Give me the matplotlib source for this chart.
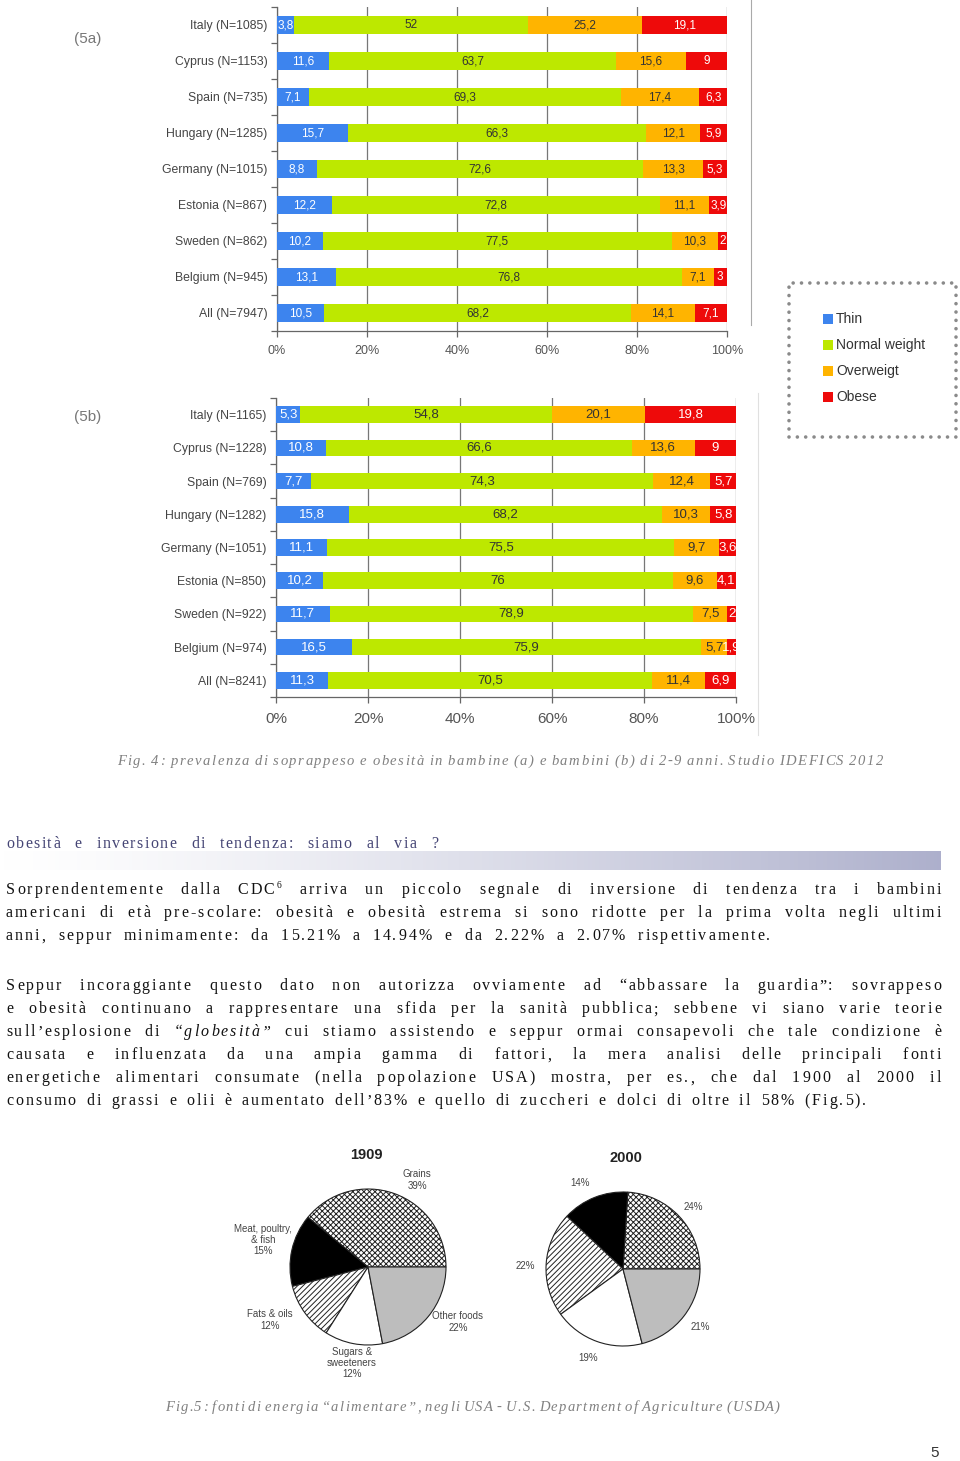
import matplotlib
matplotlib.use('Agg')
import matplotlib.pyplot as plt
from matplotlib.font_manager import FontProperties
from matplotlib.patches import Rectangle
from matplotlib.lines import Line2D
import numpy as np

plt.rcParams['font.family'] = ['Liberation Sans', 'DejaVu Sans']
plt.rcParams['hatch.linewidth'] = 0.7

# ---------------- data ----------------
cats_a = ["Italy (N=1085)", "Cyprus (N=1153)", "Spain (N=735)", "Hungary (N=1285)",
          "Germany (N=1015)", "Estonia (N=867)", "Sweden (N=862)", "Belgium (N=945)",
          "All (N=7947)"]
thin_a = [3.8, 11.6, 7.1, 15.7, 8.8, 12.2, 10.2, 13.1, 10.5]
normal_a = [52, 63.7, 69.3, 66.3, 72.6, 72.8, 77.5, 76.8, 68.2]
over_a = [25.2, 15.6, 17.4, 12.1, 13.3, 11.1, 10.3, 7.1, 14.1]
obese_a = [19.1, 9, 6.3, 5.9, 5.3, 3.9, 2, 3, 7.1]

cats_b = ["Italy (N=1165)", "Cyprus (N=1228)", "Spain (N=769)", "Hungary (N=1282)",
          "Germany (N=1051)", "Estonia (N=850)", "Sweden (N=922)", "Belgium (N=974)",
          "All (N=8241)"]
thin_b = [5.3, 10.8, 7.7, 15.8, 11.1, 10.2, 11.7, 16.5, 11.3]
normal_b = [54.8, 66.6, 74.3, 68.2, 75.5, 76, 78.9, 75.9, 70.5]
over_b = [20.1, 13.6, 12.4, 10.3, 9.7, 9.6, 7.5, 5.7, 11.4]
obese_b = [19.8, 9, 5.7, 5.8, 3.6, 4.1, 2, 1.9, 6.9]

legend_labels = ["Thin", "Normal weight", "Overweigt", "Obese"]
x_ticks = [0, 20, 40, 60, 80, 100]
x_ticklabels = ["0%", "20%", "40%", "60%", "80%", "100%"]

pie_labels_1909 = ["Grains\n39%", "Meat, poultry,\n& fish\n15%", "Fats & oils\n12%",
                   "Sugars &\nsweeteners\n12%", "Other foods\n22%"]
pie_1909 = [39, 15, 12, 12, 22]
pie_labels_2000 = ["24%", "14%", "22%", "19%", "21%"]
pie_2000 = [24, 14, 22, 19, 21]

caption4 = "Fig. 4: prevalenza di soprappeso e obesità in bambine (a) e bambini (b) di 2-9 anni. Studio IDEFICS 2012"
caption5 = "Fig.5: fonti di energia “alimentare”, negli USA - U.S. Department of Agriculture (USDA)"
heading = "obesità e inversione di tendenza: siamo al via ?"

# ---------------- figure ----------------
W, H = 960, 1461
fig = plt.figure(figsize=(9.6, 14.61), dpi=100)
fig.patch.set_facecolor('white')


def fx(x):
    return x / W


def fy(y):
    return 1 - y / H


C_THIN, C_NORM, C_OVER, C_OBESE = '#3d84ee', '#bde800', '#ffb400', '#ee0a0a'


def fmt(v):
    return f"{v:g}".replace('.', ',')


def stacked(px_box, cats, thin, normal, over, obese, ytick_fs, val_fs, xtick_fs, xpad):
    l, r, t, b = px_box
    ax = fig.add_axes([fx(l), fy(b), (r - l) / W, (b - t) / H])
    y = np.arange(len(cats))
    left = np.zeros(len(cats))
    for vals, col, tc in [(thin, C_THIN, 'white'), (normal, C_NORM, '#333333'),
                          (over, C_OVER, '#333333'), (obese, C_OBESE, 'white')]:
        vals = np.array(vals, float)
        ax.barh(y, vals, left=left, height=0.5, color=col, zorder=3)
        for yi, (lv, v) in enumerate(zip(left, vals)):
            ax.text(lv + v / 2, yi, fmt(v), ha='center', va='center', fontsize=val_fs,
                    color=tc, zorder=4, clip_on=True)
        left = left + vals
    ax.set_xlim(0, 100)
    ax.set_ylim(len(cats) - 0.5, -0.5)
    ax.set_xticks(x_ticks, x_ticklabels)
    ax.set_yticks(y, cats)
    ax.set_yticks(np.arange(-0.5, len(cats), 1), minor=True)
    ax.tick_params(axis='y', which='major', length=0, labelsize=ytick_fs, labelcolor='#444444', pad=7)
    ax.tick_params(axis='y', which='minor', length=4, color='#666666', width=0.9)
    ax.tick_params(axis='x', which='major', length=4, color='#666666', width=0.9,
                   labelsize=xtick_fs, labelcolor='#555555', pad=xpad)
    ax.xaxis.grid(True, color='#777777', lw=0.9)
    ax.set_axisbelow(True)
    for s in ['top', 'right']:
        ax.spines[s].set_visible(False)
    for s in ['left', 'bottom']:
        ax.spines[s].set_color('#666666')
        ax.spines[s].set_linewidth(0.9)
    return ax


stacked((277, 727, 7, 331), cats_a, thin_a, normal_a, over_a, obese_a, 8.8, 8.5, 9, 6)
stacked((276, 736, 398, 697), cats_b, thin_b, normal_b, over_b, obese_b, 8.8, 9.5, 11, 7)

fig.text(fx(88), fy(39), "(5a)", fontsize=11, color='#777777', ha='center', va='center')
fig.text(fx(88), fy(417), "(5b)", fontsize=11, color='#777777', ha='center', va='center')

# image border lines
fig.add_artist(Line2D([fx(751), fx(751)], [fy(0), fy(325)], color='#aaaaaa', lw=0.8))
fig.add_artist(Line2D([fx(758), fx(758)], [fy(393), fy(735)], color='#e0e0e0', lw=0.8))

# legend box
fig.add_artist(Rectangle((fx(789), fy(437)), (956 - 789) / W, (437 - 283) / H,
                         transform=fig.transFigure, fill=False, edgecolor='#8a8a8a',
                         lw=2.6, ls=(0, (0.01, 2.3)), capstyle='round'))
for i, (lab, col) in enumerate(zip(legend_labels, [C_THIN, C_NORM, C_OVER, C_OBESE])):
    yc = 319 + i * 26
    fig.add_artist(Rectangle((fx(823), fy(yc + 5)), 10 / W, 10 / H, transform=fig.transFigure,
                             facecolor=col, edgecolor='none'))
    fig.text(fx(836), fy(yc), lab, fontsize=10, color='#333333', va='center', ha='left')

# ---------------- text helpers ----------------
renderer = fig.canvas.get_renderer()
SERIF = ['Liberation Serif', 'DejaVu Serif']


def props(st, size):
    return FontProperties(family=SERIF, style='italic' if st in ('i',) else 'normal',
                          size=size * 0.6 if st == 'sup' else size)


def cwidth(c, fp):
    w, h, d = renderer.get_text_width_height_descent(c, fp, ismath=False)
    return w


def draw_line(tokens, x0, x1, ycenter, size=11.5, color='#111111', tracking=2.0, min_gap=5,
              style_all='n'):
    # tokens: list of (text, style) ; 'sup' attaches to previous word
    words = []
    for text, st in tokens:
        if st == 'sup' and words:
            words[-1].append((text, st))
        else:
            words.append([(text, st)])
    chars = []
    for w in words:
        lst = []
        for text, st in w:
            s = st if st != 'n' else style_all
            fp = props(s, size)
            for c in text:
                lst.append((c, fp, st, cwidth(c, fp)))
        chars.append(lst)
    n = len(words)
    nat = sum(cw for wl in chars for (_, _, _, cw) in wl)
    nch = sum(len(wl) for wl in chars)
    avail = x1 - x0
    tr = tracking
    gap = (avail - nat - tr * (nch - n)) / max(n - 1, 1)
    if gap < min_gap:
        tr = (avail - nat - min_gap * (n - 1)) / max(nch - n, 1)
        gap = min_gap
    x = x0
    yb = ycenter + size * 0.45
    for wl in chars:
        for (c, fp, st, cw) in wl:
            yy = yb - 6 if st == 'sup' else yb
            fig.text(fx(x), fy(yy), c, fontproperties=fp, color=color, ha='left', va='baseline')
            x += cw + tr
        x += gap - tr


def toks(s):
    out = []
    for w in s.split(' '):
        if w.startswith('§'):
            out.append((w[1:], 'i'))
        elif w.startswith('^'):
            out.append((w[1:], 'sup'))
        else:
            out.append((w, 'n'))
    return out


# caption fig 4
draw_line(toks(caption4), 117, 883, 760, size=10.5, color='#808080', tracking=1.5, min_gap=4,
          style_all='i')

# heading + gradient bar
draw_line(toks(heading), 6, 438, 843, size=11.5, color='#454575', tracking=1.5, min_gap=4)
axg = fig.add_axes([0, fy(870), 941 / W, 19 / H])
grad = np.linspace(0, 1, 256) ** 1.3
c0 = np.array([1.0, 1.0, 1.0])
c1 = np.array([0.68, 0.69, 0.80])
img = (c0[None, :] * (1 - grad[:, None]) + c1[None, :] * grad[:, None])[None, :, :]
axg.imshow(img, aspect='auto', extent=(0, 1, 0, 1))
axg.axis('off')

# body paragraphs
p1 = [
    ("Sorprendentemente dalla CDC ^6 arriva un piccolo segnale di inversione di tendenza tra i bambini", 941),
    ("americani di età pre-scolare: obesità e obesità estrema si sono ridotte per la prima volta negli ultimi", 941),
    ("anni, seppur minimamente: da 15.21% a 14.94% e da 2.22% a 2.07% rispettivamente.", 770),
]
p2 = [
    ("Seppur incoraggiante questo dato non autorizza ovviamente ad “abbassare la guardia”: sovrappeso", 941),
    ("e obesità continuano a rappresentare una sfida per la sanità pubblica; sebbene vi siano varie teorie", 941),
    ("sull’esplosione di §“globesità” cui stiamo assistendo e seppur ormai consapevoli che tale condizione è", 941),
    ("causata e influenzata da una ampia gamma di fattori, la mera analisi delle principali fonti", 941),
    ("energetiche alimentari consumate (nella popolazione USA) mostra, per es., che dal 1900 al 2000 il", 941),
    ("consumo di grassi e olii è aumentato dell’83% e quello di zuccheri e dolci di oltre il 58% (Fig.5).", 866),
]
for i, (line, xe) in enumerate(p1):
    draw_line(toks(line), 6, xe, 889 + 23 * i)
for i, (line, xe) in enumerate(p2):
    draw_line(toks(line), 6, xe, 985 + 23 * i)

# ---------------- pies ----------------
axp = fig.add_axes([fx(220), fy(1390), 500 / W, 260 / H])
pie_colors = ['white', 'black', 'white', 'white', '#bdbdbd']
pie_hatches = ['xxxxxx', None, '//////', None, None]
for vals, cx, cy, rad in [(pie_1909, 368, 1267, 78), (pie_2000, 623, 1269, 77)]:
    wedges, _ = axp.pie(vals, colors=pie_colors, startangle=0, counterclock=True,
                        center=(cx, H - cy), radius=rad,
                        wedgeprops=dict(edgecolor='#222222', linewidth=0.8))
    for wdg, h in zip(wedges, pie_hatches):
        if h:
            wdg.set_hatch(h)
axp.set_xlim(220, 720)
axp.set_ylim(H - 1390, H - 1130)
axp.set_aspect('auto')
axp.axis('off')

lab_pos_1909 = [(417, 1180), (263, 1240), (270, 1320), (352, 1363), (458, 1322)]
lab_pos_2000 = [(693, 1207), (580, 1183), (525, 1266), (588, 1358), (700, 1327)]
for lab, (x, y) in zip(pie_labels_1909, lab_pos_1909):
    fig.text(fx(x), fy(y), lab, fontsize=7, color='#444444', ha='center', va='center',
             linespacing=1.15)
for lab, (x, y) in zip(pie_labels_2000, lab_pos_2000):
    fig.text(fx(x), fy(y), lab, fontsize=7, color='#444444', ha='center', va='center')
fig.text(fx(366), fy(1155), "1909", fontsize=10.5, fontweight='bold', color='#222222',
         ha='center', va='center')
fig.text(fx(626), fy(1158), "2000", fontsize=10.5, fontweight='bold', color='#222222',
         ha='center', va='center')

# caption fig 5
draw_line(toks(caption5), 165, 780, 1406, size=10.5, color='#808080', tracking=1.5, min_gap=4,
          style_all='i')

# page number
fig.text(fx(935), fy(1453), "5", fontsize=11, color='#333333', ha='center', va='center')

fig.savefig('out.png', dpi=100, facecolor='white')
